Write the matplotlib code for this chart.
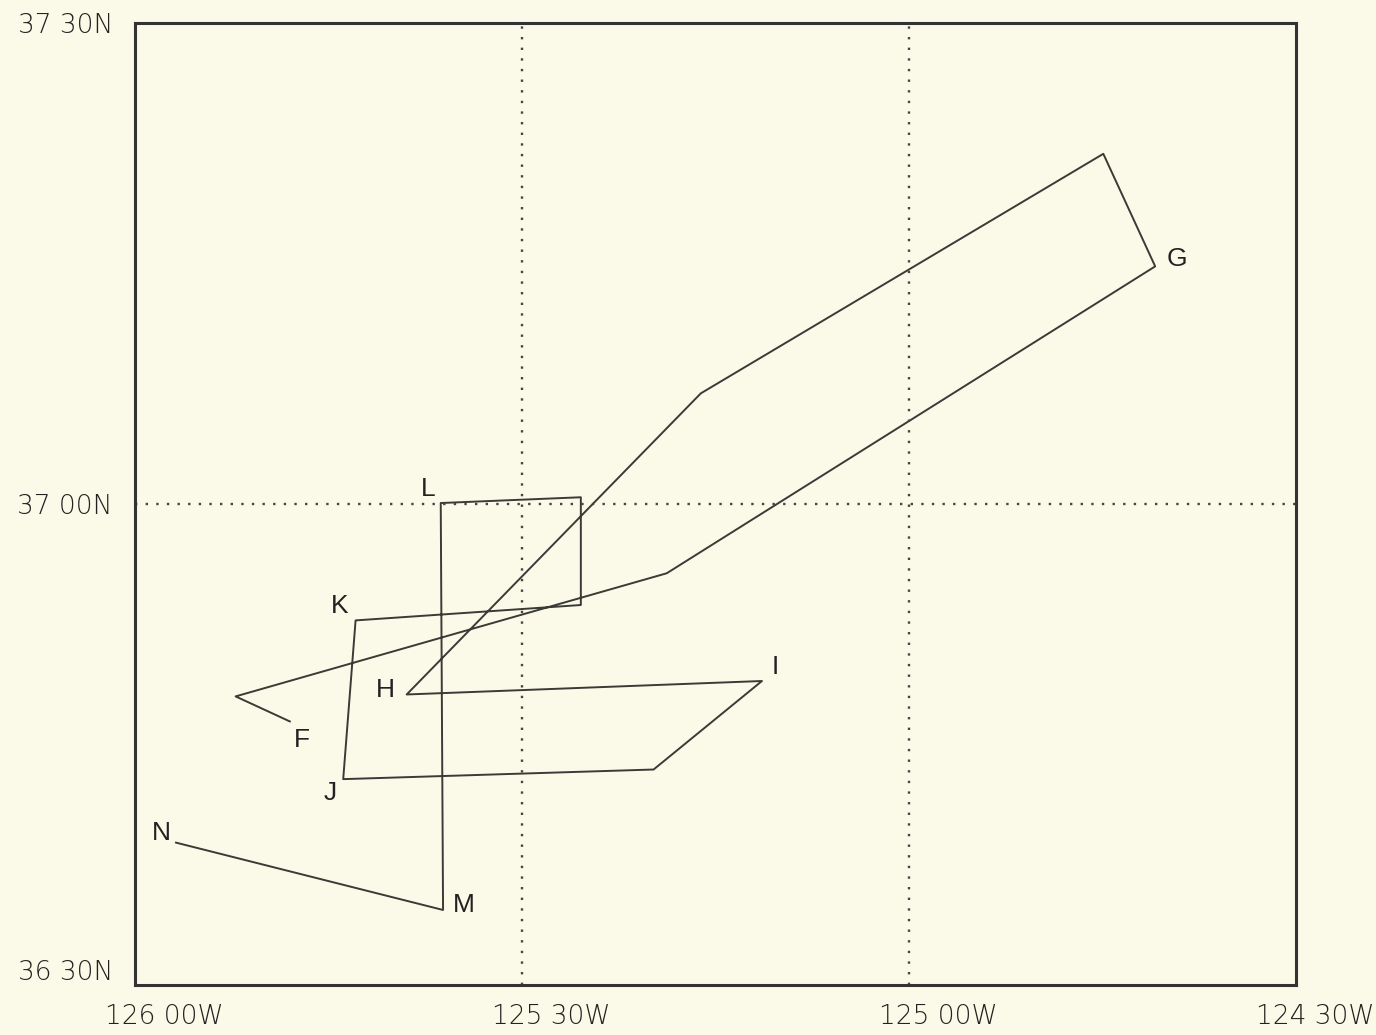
import matplotlib.pyplot as plt
import matplotlib.transforms as mtransforms

# Ship track (lon, lat) in drawing order
track_lon = [-125.800, -125.870, -125.313, -124.682, -124.749, -125.269, -125.649,
             -125.190, -125.330, -125.731, -125.715, -125.424, -125.424, -125.605,
             -125.602, -125.947]
track_lat = [36.774, 36.800, 36.928, 37.247, 37.364, 37.115, 36.802,
             36.816, 36.724, 36.714, 36.879, 36.895, 37.007, 37.001,
             36.578, 36.648]

# Station labels
station_names = ['F', 'G', 'H', 'I', 'J', 'K', 'L', 'M', 'N']
station_lon = [-125.784, -124.654, -125.677, -125.173, -125.748, -125.735, -125.621, -125.575, -125.966]
station_lat = [36.755, 37.255, 36.807, 36.831, 36.700, 36.894, 37.016, 36.583, 36.658]

xticks = [-126.0, -125.5, -125.0, -124.5]
xtick_labels = ['126 00W', '125 30W', '125 00W', '124 30W']
yticks = [36.5, 37.0, 37.5]
ytick_labels = ['36 30N', '37 00N', '37 30N']

bg = '#fbfae8'
ink = '#3a3a36'

fig = plt.figure(figsize=(13.76, 10.35), dpi=100, facecolor=bg)
ax = fig.add_axes([0.0981, 0.0483, 0.8438, 0.9295], facecolor=bg)

ax.plot(track_lon, track_lat, color=ink, lw=1.4)

for name, lo, la in zip(station_names, station_lon, station_lat):
    ax.text(lo, la, name, fontsize=19, color='#222222', ha='center', va='center',
            family='Liberation Sans')

ax.set_xlim(-126.0, -124.5)
ax.set_ylim(36.5, 37.5)

# dotted grid at the inner graticule only
for x in xticks[1:-1]:
    ax.axvline(x, color='#444444', lw=1.7, linestyle=(0, (1, 3.5)))
for y in yticks[1:-1]:
    ax.axhline(y, color='#444444', lw=1.7, linestyle=(0, (1, 3.5)))

ax.set_xticks(xticks)
ax.set_xticklabels(xtick_labels)
ax.set_yticks(yticks)
ax.set_yticklabels(ytick_labels)
ax.tick_params(length=0, labelsize=19, labelcolor='#222222')
ax.tick_params(axis='x', pad=14)
ax.tick_params(axis='y', pad=16)

offset = mtransforms.ScaledTranslation(-0.30, 0, fig.dpi_scale_trans)
last_offset = mtransforms.ScaledTranslation(-0.40, 0, fig.dpi_scale_trans)
xlabs = ax.get_xticklabels()
for i, lab in enumerate(xlabs):
    lab.set_horizontalalignment('left')
    lab.set_transform(lab.get_transform() + (last_offset if i == len(xlabs) - 1 else offset))
    lab.set_fontweight('light')
for lab in ax.get_yticklabels():
    lab.set_fontweight('light')
ax.get_yticklabels()[0].set_verticalalignment('bottom')

for s in ax.spines.values():
    s.set_color('#333333')
    s.set_linewidth(2.2)

fig.savefig('out.png', dpi=100, facecolor=bg)
